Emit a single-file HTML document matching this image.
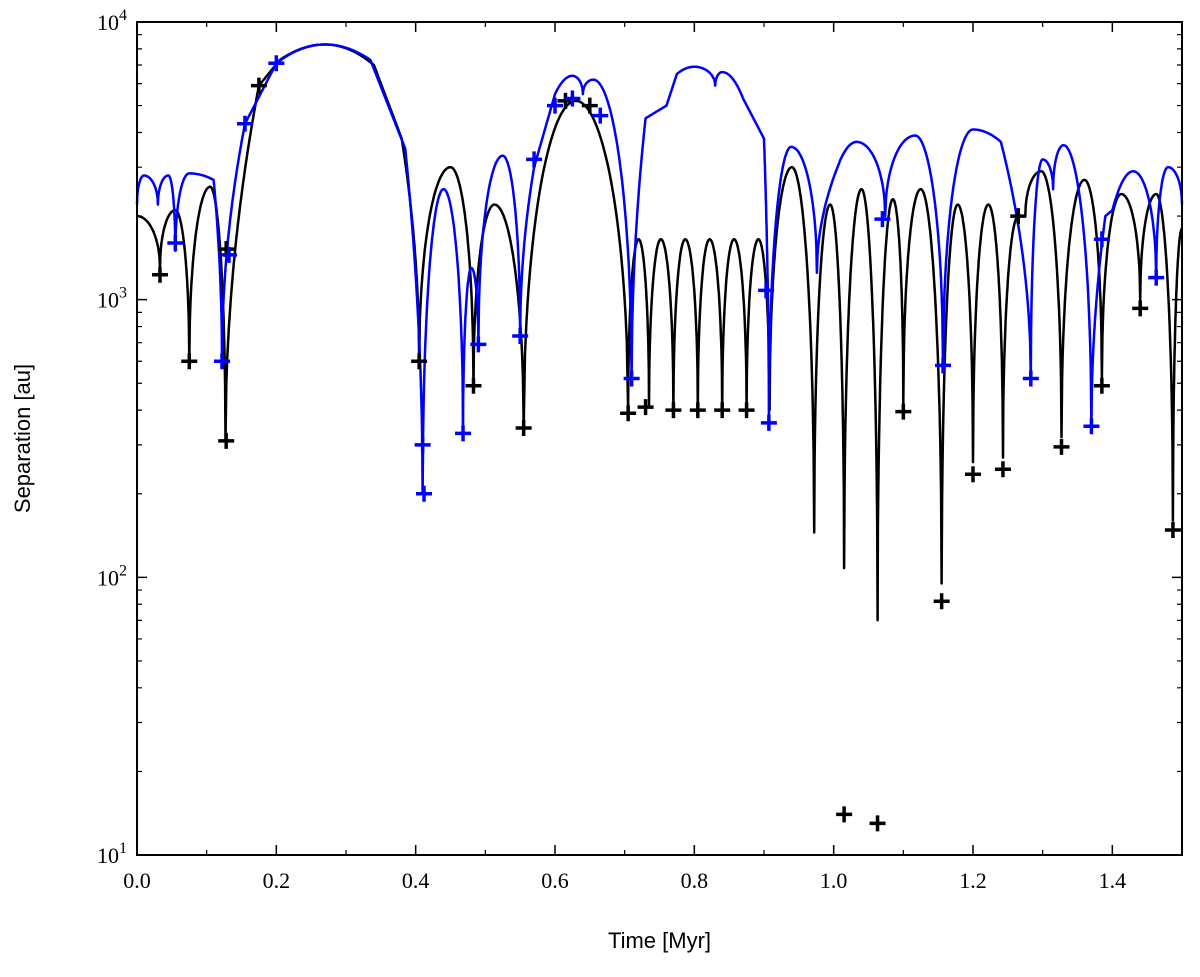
<!DOCTYPE html>
<html><head><meta charset="utf-8"><style>
body{margin:0;background:#fff;}
svg text{font-family:"Liberation Serif",serif;font-size:22px;}
.lab{font-family:"Liberation Sans",sans-serif;font-size:22px;}
</style></head><body>
<svg id="chart" width="1200" height="972" xmlns="http://www.w3.org/2000/svg">
<g id="plot"></g>
</svg>
<script>
const xTicks=[0.0,0.2,0.4,0.6,0.8,1.0,1.2,1.4];
const xTickLabels=["0.0","0.2","0.4","0.6","0.8","1.0","1.2","1.4"];
const yDecades=[1,2,3,4];
const blackT=[0,0.033,0.055,0.075,0.105,0.127,0.175,0.205,0.27,0.34,0.38,0.405,0.45,0.483,0.513,0.555,0.63,0.705,0.72,0.735,0.752,0.77,0.787,0.805,0.822,0.84,0.857,0.875,0.892,0.908,0.94,0.972,0.995,1.015,1.04,1.063,1.085,1.1,1.125,1.155,1.178,1.2,1.222,1.243,1.265,1.275,1.298,1.327,1.36,1.385,1.413,1.44,1.463,1.487,1.5];
const blackV=[2000,1300,2100,600,2550,310,5900,7300,8300,7000,3800,600,3000,500,2200,350,5200,400,1650,410,1650,400,1650,400,1650,400,1650,400,1650,400,3000,145,2200,108,2500,70,2300,420,2500,95,2200,260,2200,270,2000,2000,2900,320,2700,520,2400,1000,2400,160,1800];
const blueT=[0,0.01,0.03,0.045,0.055,0.075,0.11,0.122,0.155,0.2,0.27,0.335,0.385,0.41,0.44,0.468,0.48,0.49,0.525,0.55,0.57,0.6,0.625,0.64,0.655,0.71,0.73,0.76,0.775,0.8,0.83,0.84,0.87,0.9,0.907,0.939,0.976,1.01,1.033,1.074,1.117,1.157,1.2,1.24,1.283,1.3,1.315,1.33,1.37,1.39,1.4,1.43,1.463,1.48,1.5];
const blueV=[2200,2800,2200,2800,1500,2850,2700,600,4300,7100,8300,7300,3500,200,2500,330,1300,700,3300,750,3000,5500,6400,5500,6200,520,4500,5000,6500,6900,5900,6600,5300,3800,360,3550,1250,3200,3700,2000,3900,580,4100,3700,520,3200,2500,3600,350,2000,2100,2900,1200,3000,2200];
const blackCrossT=[0.033,0.075,0.128,0.128,0.175,0.405,0.483,0.555,0.615,0.65,0.705,0.73,0.77,0.805,0.84,0.875,1.015,1.063,1.1,1.155,1.2,1.243,1.265,1.327,1.385,1.44,1.487];
const blackCrossV=[1230,600,1520,310,5900,600,490,345,5200,5000,390,410,400,400,400,400,14,13,395,82,235,245,2000,295,490,930,148];
const blueCrossT=[0.055,0.122,0.132,0.155,0.2,0.41,0.412,0.468,0.49,0.55,0.57,0.6,0.625,0.665,0.71,0.903,0.907,1.07,1.157,1.283,1.37,1.385,1.463];
const blueCrossV=[1600,600,1450,4300,7100,300,200,330,690,740,3200,5000,5300,4600,520,1080,360,1950,580,520,350,1650,1200];

const L=137,R=1182,T=22,B=855;
function xs(t){return L+(t/1.5)*(R-L);}
function yl(lv){return B-(lv-1)/3*(B-T);}
function ys(v){return yl(Math.log10(v));}
const NS="http://www.w3.org/2000/svg";
const g=document.getElementById('plot');
function mk(tag,attrs){const e=document.createElementNS(NS,tag);for(const k in attrs)e.setAttribute(k,attrs[k]);g.appendChild(e);return e;}

function kind(vs,i){
  const a=i>0?vs[i-1]:null,b=i<vs.length-1?vs[i+1]:null,v=vs[i];
  if(a===null) return b>v?-1:1;
  if(b===null) return a>v?-1:1;
  if(v>=a&&v>=b) return 1;
  if(v<=a&&v<=b) return -1;
  return 0;
}
function curvePts(ts,vs){
  const pts=[];
  for(let i=0;i<ts.length-1;i++){
    const k0=kind(vs,i),k1=kind(vs,i+1);
    const l0=Math.log10(vs[i]),l1=Math.log10(vs[i+1]);
    const N=40;
    for(let j=0;j<=N;j++){
      if(i>0&&j===0) continue;
      const s=j/N;
      let f;
      const startSteep=(k0===-1), endSteep=(k1===-1);
      const startFlat=(k0===1), endFlat=(k1===1);
      if(startSteep&&endFlat) f=Math.sqrt(1-(1-s)*(1-s));
      else if(startFlat&&endSteep) f=1-Math.sqrt(1-s*s);
      else if(startSteep) f=Math.sqrt(s);
      else if(endSteep) f=1-Math.sqrt(1-s);
      else if(startFlat&&endFlat) f=(1-Math.cos(Math.PI*s))/2;
      else if(startFlat) f=s*s;
      else if(endFlat) f=1-(1-s)*(1-s);
      else f=s;
      const t=ts[i]+(ts[i+1]-ts[i])*s;
      pts.push(xs(t).toFixed(1)+','+yl(l0+(l1-l0)*f).toFixed(1));
    }
  }
  return pts.join(' ');
}
function line(ts,vs,color,name){
  const e=mk('polyline',{points:curvePts(ts,vs),fill:'none',stroke:color,'stroke-width':2.5,'stroke-linejoin':'round'});
  
  
}
function crosses(ts,vs,color,name){
  ts.forEach((t,i)=>{const x=xs(t),y=ys(vs[i]);
    const e=mk('path',{d:`M${x-8},${y}H${x+8}M${x},${y-8}V${y+8}`,stroke:color,'stroke-width':3.5,fill:'none'});
    
    
  });
}
line(blackT,blackV,'#000','black-separation-line');
line(blueT,blueV,'#0000ff','blue-separation-line');
crosses(blackCrossT,blackCrossV,'#000','black-cross-marker');
crosses(blueCrossT,blueCrossV,'#0000ff','blue-cross-marker');

const fr=mk('rect',{x:L,y:T,width:R-L,height:B-T,fill:'none',stroke:'#000','stroke-width':2});


xTicks.forEach((t,i)=>{const x=xs(t);
  mk('path',{d:`M${x},${B}V${B-10}M${x},${T}V${T+10}`,stroke:'#000','stroke-width':1.5});
  const tx=mk('text',{x:x,y:B+33,'text-anchor':'middle'});tx.textContent=xTickLabels[i];
  
  
});
for(let t=0.1;t<1.5;t+=0.2){const x=xs(t);mk('path',{d:`M${x},${B}V${B-5}M${x},${T}V${T+5}`,stroke:'#000','stroke-width':1.2});}
yDecades.forEach(d=>{const y=ys(Math.pow(10,d));
  mk('path',{d:`M${L},${y}H${L+10}M${R},${y}H${R-10}`,stroke:'#000','stroke-width':1.5});
  const tx=mk('text',{x:L-10,y:y+8,'text-anchor':'end'});
  tx.innerHTML='10<tspan dy="-10" font-size="16">'+d+'</tspan>';
  
  
  if(d<4)for(let m=2;m<10;m++){const yy=ys(m*Math.pow(10,d));mk('path',{d:`M${L},${yy}H${L+5}M${R},${yy}H${R-5}`,stroke:'#000','stroke-width':1.2});}
});
const xlab=mk('text',{x:(L+R)/2,y:948,'text-anchor':'middle',class:'lab'});xlab.textContent='Time [Myr]';


const ylab=mk('text',{x:0,y:0,'text-anchor':'middle',class:'lab',transform:`translate(30,${(T+B)/2}) rotate(-90)`});ylab.textContent='Separation [au]';


</script>
</body></html>
